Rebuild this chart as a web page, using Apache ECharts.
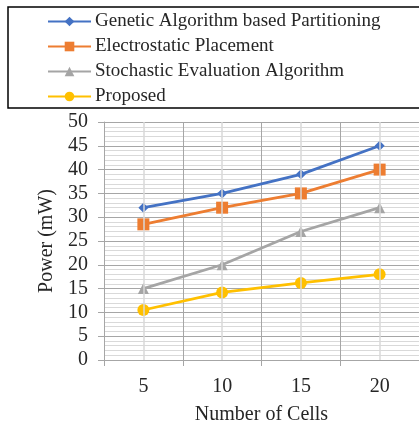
<!DOCTYPE html>
<html>
<head>
<meta charset="utf-8">
<script src="https://cdn.jsdelivr.net/npm/echarts@6/dist/echarts.min.js"></script>
<style>
  html, body { margin: 0; padding: 0; background: #fff; }
  #chart { width: 419px; height: 430px; }
</style>
</head>
<body>
<div id="chart"></div>
<script>
// Power consumption vs. number of cells for four placement approaches
var cells = ['5', '10', '15', '20'];
var genetic = [32, 35, 39, 45];
var electrostatic = [28.5, 32, 35, 40];
var stochastic = [15, 20, 27, 32];
var proposed = [10.5, 14.2, 16.2, 18];
var seriesNames = [
  'Genetic Algorithm based Partitioning',
  'Electrostatic Placement',
  'Stochastic Evaluation Algorithm',
  'Proposed'
];
var colors = ['#4472C4', '#ED7D31', '#A5A5A5', '#FFC000'];

var serif = '"Liberation Serif", "Times New Roman", serif';
var textColor = '#262626';

function lineSeries(name, data, color, symbol, size) {
  return {
    name: name,
    type: 'line',
    data: data,
    symbol: symbol,
    symbolSize: size,
    z: 3,
    lineStyle: { color: color, width: 2.75 },
    itemStyle: { color: color }
  };
}

var chart = echarts.init(document.getElementById('chart'), null, { renderer: 'canvas' });
chart.setOption({
  animation: false,
  backgroundColor: '#fff',
  textStyle: { fontFamily: serif, color: textColor },
  graphic: [{
    type: 'rect',
    shape: { x: 8, y: 7, width: 425, height: 101 },
    style: { fill: 'none', stroke: '#000', lineWidth: 1.5 },
    z: 10
  }],
  legend: {
    orient: 'vertical',
    left: 47,
    top: 12,
    padding: 0,
    itemWidth: 43,
    itemHeight: 12,
    itemGap: 6,
    textStyle: { fontFamily: serif, fontSize: 19, color: textColor, padding: [0, 0, 0, -1] },
    data: seriesNames
  },
  grid: { left: 104, right: 0, top: 122, bottom: 68, containLabel: false },
  xAxis: {
    type: 'category',
    data: cells,
    boundaryGap: true,
    name: 'Number of Cells',
    nameLocation: 'middle',
    nameGap: 45,
    nameTextStyle: { fontFamily: serif, fontSize: 20, color: textColor },
    axisLine: { lineStyle: { color: '#a6a6a6', width: 1 } },
    axisTick: { show: true, length: 6, lineStyle: { color: '#a6a6a6' } },
    axisLabel: { margin: 17, fontFamily: serif, fontSize: 20, color: textColor },
    splitLine: { show: true, lineStyle: { color: '#a6a6a6', width: 1 } }
  },
  yAxis: {
    type: 'value',
    min: 0,
    max: 50,
    interval: 5,
    name: 'Power (mW)',
    nameLocation: 'middle',
    nameGap: 46,
    nameTextStyle: { fontFamily: serif, fontSize: 20, color: textColor },
    axisLine: { show: true, lineStyle: { color: '#a6a6a6', width: 1 } },
    axisTick: { show: true, length: 6, lineStyle: { color: '#a6a6a6' } },
    axisLabel: { margin: 16, fontFamily: serif, fontSize: 20, color: textColor },
    splitLine: { show: true, lineStyle: { color: '#a6a6a6', width: 1 } },
    minorTick: { show: false, splitNumber: 5 },
    minorSplitLine: { show: true, lineStyle: { color: '#d9d9d9', width: 1 } }
  },
  series: [
    {
      // light vertical guides through each category
      type: 'line',
      data: [],
      silent: true,
      z: 1,
      markLine: {
        silent: true,
        symbol: ['none', 'none'],
        label: { show: false },
        lineStyle: { color: '#d9d9d9', width: 1.5, type: 'solid' },
        data: cells.map(function (c) { return { xAxis: c }; })
      }
    },
    lineSeries(seriesNames[0], genetic, colors[0], 'diamond', 10),
    lineSeries(seriesNames[1], electrostatic, colors[1], 'rect', 12),
    lineSeries(seriesNames[2], stochastic, colors[2], 'triangle', 11),
    lineSeries(seriesNames[3], proposed, colors[3], 'circle', 12)
  ]
});
</script>
</body>
</html>
